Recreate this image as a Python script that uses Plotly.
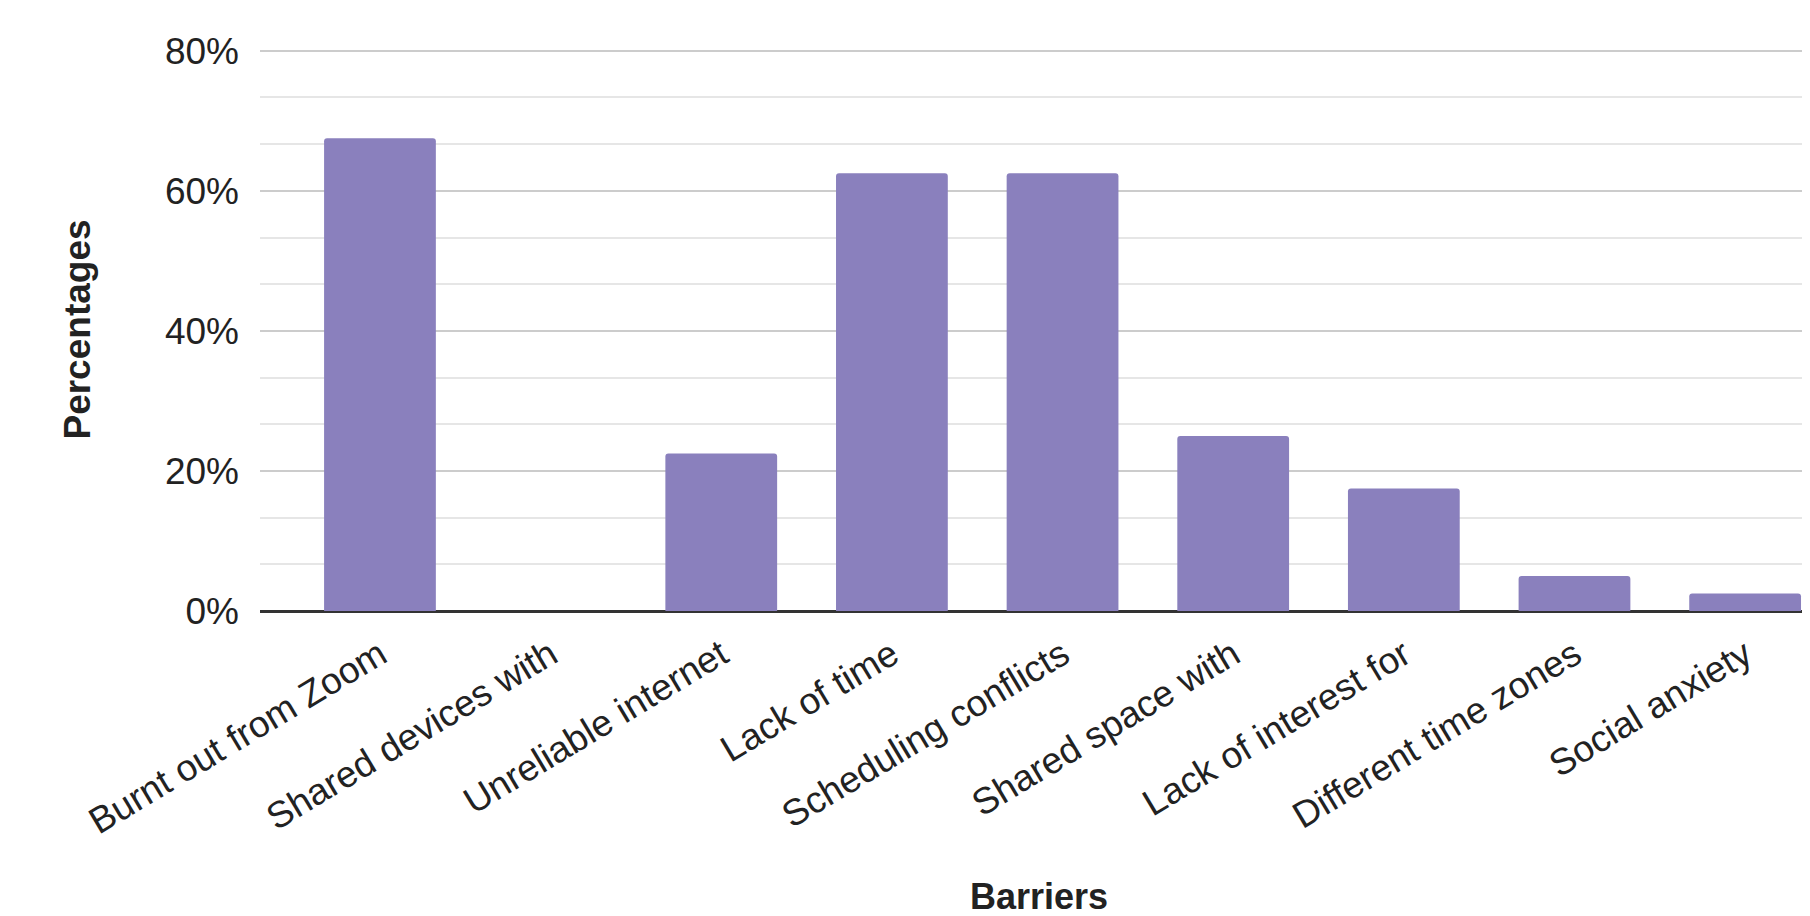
import plotly.graph_objects as go

categories = ["Burnt out from Zoom", "Shared devices with", "Unreliable internet",
              "Lack of time", "Scheduling conflicts", "Shared space with",
              "Lack of interest for", "Different time zones", "Social anxiety"]
values = [67.5, 0, 22.5, 62.5, 62.5, 25, 17.5, 5, 2.5]
y_ticks = [0, 20, 40, 60, 80]
y_tick_labels = ["0%", "20%", "40%", "60%", "80%"]

FONT = "Liberation Sans, Arial, sans-serif"

fig = go.Figure(go.Bar(
    x=list(range(len(categories))),
    y=values,
    marker=dict(color="#8a80bd", line=dict(width=0)),
    width=0.655,
    hoverinfo="skip",
))

fig.update_layout(
    width=1810, height=916,
    margin=dict(l=252, r=0, t=40, b=313),
    paper_bgcolor="white", plot_bgcolor="white",
    showlegend=False,
    barcornerradius=3,
    font=dict(family=FONT, size=38, color="#222222"),
)

fig.update_xaxes(
    range=[-0.703, 8.427],
    tickmode="array",
    tickvals=list(range(len(categories))),
    ticktext=categories,
    tickangle=-31,
    tickfont=dict(size=37, color="#222222"),
    ticklabelstandoff=14,
    showgrid=False,
    showline=False,
    zeroline=False,
    title=dict(text="<b>Barriers</b>", font=dict(size=36, color="#222222"), standoff=42),
)

fig.update_yaxes(
    range=[0, 80.4],
    tickmode="array",
    tickvals=y_ticks,
    ticktext=y_tick_labels,
    tickfont=dict(size=37, color="#222222"),
    ticklabelstandoff=20,
    showgrid=True, gridcolor="#cccccc", gridwidth=2,
    minor=dict(dtick=20/3, tick0=0, showgrid=True, gridcolor="#e6e6e6", gridwidth=2),
    zeroline=True, zerolinecolor="#333333", zerolinewidth=3,
    title=dict(text="<b>Percentages</b>", font=dict(size=37, color="#222222"), standoff=62),
)

fig.write_html("out.html")
